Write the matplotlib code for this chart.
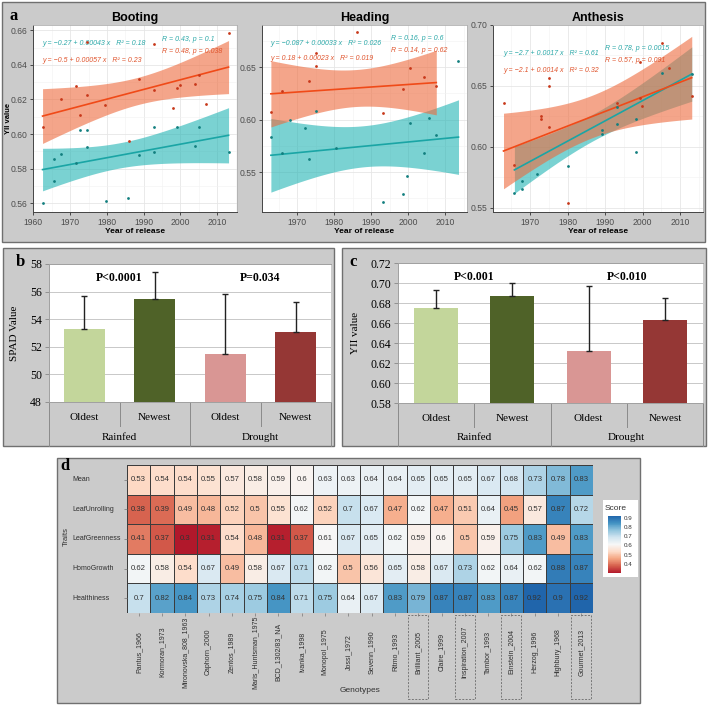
import numpy as np
import matplotlib
matplotlib.use('Agg')
import matplotlib.pyplot as plt
from matplotlib.patches import Rectangle
from matplotlib.colors import Normalize
import matplotlib.transforms as mtrans
from matplotlib.ticker import MultipleLocator, FormatStrFormatter
from matplotlib.cm import ScalarMappable

plt.rcParams['font.family'] = ['Liberation Sans', 'DejaVu Sans']

# ---------------- DATA ----------------
# Panel a : YII value vs year of release (cyan series / red series)
boot_cyan_year = [1962.5, 1965.5, 1965.5, 1967.5, 1971.6, 1972.7, 1974.7, 1974.7, 1979.8, 1985.8,
                  1988.8, 1992.8, 1992.8, 1999.1, 2003.9, 2005.1, 2013.1]
boot_cyan_val = [0.560, 0.5727, 0.5858, 0.5887, 0.5835, 0.6022, 0.6026, 0.5926, 0.5613, 0.5633,
                 0.5877, 0.5897, 0.6041, 0.6041, 0.5931, 0.6041, 0.5897]
boot_red_year = [1962.5, 1967.5, 1971.6, 1972.7, 1974.7, 1974.7, 1979.6, 1985.9, 1988.8, 1992.8,
                 1992.8, 1997.9, 1999.1, 2000.0, 2003.9, 2005.1, 2007.1, 2013.1]
boot_red_val = [0.6041, 0.620, 0.6276, 0.6109, 0.6224, 0.653, 0.6166, 0.596, 0.6318, 0.652,
                0.6253, 0.6153, 0.6269, 0.6282, 0.6288, 0.634, 0.6176, 0.6585]

head_cyan_year = [1962.9, 1965.9, 1968.1, 1972.0, 1973.1, 1975.1, 1980.4, 1993.3, 1998.5, 1999.6,
                  2000.5, 2004.4, 2005.6, 2007.6, 2013.6]
head_cyan_val = [0.5833, 0.5686, 0.600, 0.5915, 0.5623, 0.6078, 0.5733, 0.5214, 0.5292, 0.546,
                 0.5969, 0.5686, 0.6016, 0.5852, 0.6559]
head_red_year = [1962.9, 1965.9, 1973.1, 1975.1, 1975.1, 1986.2, 1993.3, 1998.5, 2000.5, 2004.4, 2007.6]
head_red_val = [0.6073, 0.6274, 0.6365, 0.6629, 0.6509, 0.6833, 0.6063, 0.629, 0.6488, 0.6409, 0.6324]

anth_cyan_year = [1965.8, 1967.8, 1967.8, 1971.8, 1980.0, 1989.1, 1989.1, 1993.2, 1993.2, 1998.2,
                  1998.2, 2005.1, 2013.1]
anth_cyan_val = [0.5626, 0.5653, 0.572, 0.5776, 0.5847, 0.614, 0.6104, 0.6325, 0.6189, 0.623,
                 0.5962, 0.661, 0.6598]
anth_red_year = [1962.9, 1965.8, 1972.9, 1972.9, 1974.9, 1974.9, 1974.9, 1980.0, 1993.2, 1999.3,
                 1999.3, 1999.9, 2005.1, 2007.1, 2013.1]
anth_red_val = [0.6358, 0.5852, 0.6254, 0.6227, 0.6563, 0.650, 0.6166, 0.554, 0.6358, 0.6404,
                0.670, 0.6336, 0.6855, 0.665, 0.642]

# fitted regression line values read at the first and last year of each series
boot_cyan_fit = [0.5795, 0.5993]
boot_red_fit = [0.6104, 0.6387]
head_cyan_fit = [0.5660, 0.5833]
head_red_fit = [0.6245, 0.6352]
anth_cyan_fit = [0.5812, 0.6598]
anth_red_fit = [0.5967, 0.6568]

stage_titles = ['Booting', 'Heading', 'Anthesis']
eq_cyan = ['y = −0.27 + 0.00043 x   R² = 0.18', 'y = −0.087 + 0.00033 x   R² = 0.026',
           'y = −2.7 + 0.0017 x   R² = 0.61']
eq_red = ['y = −0.5 + 0.00057 x   R² = 0.23', 'y = 0.18 + 0.00023 x   R² = 0.019',
          'y = −2.1 + 0.0014 x   R² = 0.32']
r_cyan = ['R = 0.43, p = 0.1', 'R = 0.16, p = 0.6', 'R = 0.78, p = 0.0015']
r_red = ['R = 0.48, p = 0.038', 'R = 0.14, p = 0.62', 'R = 0.57, p = 0.091']

# Panel b / c
bar_groups = ['Oldest', 'Newest', 'Oldest', 'Newest']
conditions = ['Rainfed', 'Drought']
spad_mean = [53.3, 55.45, 51.5, 53.1]
spad_err = [2.35, 1.95, 4.3, 2.15]
spad_p = ['P<0.0001', 'P=0.034']
yii_mean = [0.675, 0.687, 0.632, 0.663]
yii_err = [0.018, 0.013, 0.065, 0.022]
yii_p = ['P<0.001', 'P<0.010']
bar_colors = ['#C3D69B', '#4F6228', '#D99694', '#953735']

# Panel d : heatmap
traits = ['Mean', 'LeafUnrolling', 'LeafGreenness', 'HomoGrowth', 'Healthiness']
genotypes = ['Pantus_1966', 'Kormoran_1973', 'Mironovska_808_1963', 'Caphorn_2000', 'Zentos_1989',
             'Maris_Huntsman_1975', 'BCD_1302/83_NA', 'Ivanka_1998', 'Monopol_1975', 'Jossi_1972',
             'Sevenn_1990', 'Ritmo_1993', 'Brilliant_2005', 'Claire_1999', 'Inspiration_2007',
             'Tambor_1993', 'Einstein_2004', 'Herzog_1996', 'Highbury_1968', 'Gourmet_2013']
score_mean = [0.53, 0.54, 0.54, 0.55, 0.57, 0.58, 0.59, 0.6, 0.63, 0.63, 0.64, 0.64, 0.65, 0.65, 0.65,
              0.67, 0.68, 0.73, 0.78, 0.83]
score_unroll = [0.38, 0.39, 0.49, 0.48, 0.52, 0.5, 0.55, 0.62, 0.52, 0.7, 0.67, 0.47, 0.62, 0.47, 0.51,
                0.64, 0.45, 0.57, 0.87, 0.72]
score_green = [0.41, 0.37, 0.3, 0.31, 0.54, 0.48, 0.31, 0.37, 0.61, 0.67, 0.65, 0.62, 0.59, 0.6, 0.5,
               0.59, 0.75, 0.83, 0.49, 0.83]
score_homo = [0.62, 0.58, 0.54, 0.67, 0.49, 0.58, 0.67, 0.71, 0.62, 0.5, 0.56, 0.65, 0.58, 0.67, 0.73,
              0.62, 0.64, 0.62, 0.88, 0.87]
score_health = [0.7, 0.82, 0.84, 0.73, 0.74, 0.75, 0.84, 0.71, 0.75, 0.64, 0.67, 0.83, 0.79, 0.87, 0.87,
                0.83, 0.87, 0.92, 0.9, 0.92]
highlighted = ['Brilliant_2005', 'Inspiration_2007', 'Einstein_2004', 'Gourmet_2013']
legend_ticks = [0.4, 0.5, 0.6, 0.7, 0.8, 0.9]

# ---------------- FIGURE ----------------
W, H = 709, 707
fig = plt.figure(figsize=(W / 100, H / 100), dpi=100)
fig.patch.set_facecolor('white')


def px_axes(x0, y0, x1, y1):
    return fig.add_axes([x0 / W, 1 - y1 / H, (x1 - x0) / W, (y1 - y0) / H])


def gray_box(x0, y0, x1, y1, fc='#CBCBCB'):
    fig.patches.append(Rectangle((x0 / W, 1 - y1 / H), (x1 - x0) / W, (y1 - y0) / H,
                                 transform=fig.transFigure, facecolor=fc, edgecolor='#707070',
                                 lw=1.0, zorder=-10))


def fig_text(x, y, s, **kw):
    fig.text(x / W, 1 - y / H, s, **kw)


T975 = {8: 2.306, 9: 2.262, 10: 2.228, 11: 2.201, 12: 2.179, 13: 2.160, 14: 2.145, 15: 2.131,
        16: 2.120, 17: 2.110, 18: 2.101, 19: 2.093, 20: 2.086}


def smooth(ax, xs, ys, fit, line_c, fill_c, pt_c):
    x = np.asarray(xs, float)
    y = np.asarray(ys, float)
    n = len(x)
    b = (fit[1] - fit[0]) / (x.max() - x.min())
    a = fit[0] - b * x.min()
    res = y - (a + b * x)
    s = np.sqrt(np.sum(res ** 2) / (n - 2))
    xg = np.linspace(x.min(), x.max(), 100)
    yg = a + b * xg
    se = s * np.sqrt(1 / n + (xg - x.mean()) ** 2 / np.sum((x - x.mean()) ** 2))
    t = T975.get(n - 2, 2.1)
    ax.fill_between(xg, yg - t * se, yg + t * se, color=fill_c, alpha=0.6, lw=0, zorder=2)
    ax.plot(xg, yg, color=line_c, lw=1.2, zorder=3)
    ax.scatter(x, y, s=4, color=pt_c, zorder=4, lw=0)


# Panel a
gray_box(2, 2, 705, 242)
a_boxes = [(33, 25, 237, 212), (262, 25, 467, 212), (493, 25, 703, 212)]
a_xlims = [(1959.9, 2015.4), (1960.5, 2015.9), (1960.1, 2016.1)]
a_ylims = [(0.555, 0.663), (0.512, 0.69), (0.5467, 0.70)]
a_ymaj = [0.02, 0.05, 0.05]
a_data = [(boot_cyan_year, boot_cyan_val, boot_cyan_fit, boot_red_year, boot_red_val, boot_red_fit),
          (head_cyan_year, head_cyan_val, head_cyan_fit, head_red_year, head_red_val, head_red_fit),
          (anth_cyan_year, anth_cyan_val, anth_cyan_fit, anth_red_year, anth_red_val, anth_red_fit)]
eq_pos = [((0.044, 0.893), (0.044, 0.80), (0.63, 0.915), (0.63, 0.85)),
          ((0.042, 0.893), (0.042, 0.813), (0.627, 0.92), (0.627, 0.856)),
          ((0.048, 0.84), (0.048, 0.75), (0.533, 0.866), (0.533, 0.80))]
CY_LINE, CY_FILL, CY_PT, CY_TXT = '#1AA5A5', '#22B4B4', '#127F7F', '#2AA8A8'
RD_LINE, RD_FILL, RD_PT, RD_TXT = '#F04A18', '#EE6A3C', '#C8381A', '#E0552E'

for i in range(3):
    ax = px_axes(*a_boxes[i])
    ax.set_facecolor('white')
    cy_x, cy_y, cy_f, rd_x, rd_y, rd_f = a_data[i]
    smooth(ax, cy_x, cy_y, cy_f, CY_LINE, CY_FILL, CY_PT)
    smooth(ax, rd_x, rd_y, rd_f, RD_LINE, RD_FILL, RD_PT)
    ax.set_xlim(*a_xlims[i])
    ax.set_ylim(*a_ylims[i])
    ax.xaxis.set_major_locator(MultipleLocator(10))
    ax.xaxis.set_minor_locator(MultipleLocator(5))
    ax.yaxis.set_major_locator(MultipleLocator(a_ymaj[i]))
    ax.yaxis.set_minor_locator(MultipleLocator(a_ymaj[i] / 2))
    ax.yaxis.set_major_formatter(FormatStrFormatter('%.2f'))
    ax.grid(True, which='major', color='#E6E6E6', lw=0.6, zorder=0)
    ax.grid(True, which='minor', color='#F2F2F2', lw=0.4, zorder=0)
    ax.set_axisbelow(True)
    ax.tick_params(which='major', length=2.5, width=0.6, color='#333333', labelsize=6.2,
                   labelcolor='#4D4D4D', pad=1.5)
    ax.tick_params(which='minor', length=0)
    for sp in ['left', 'bottom']:
        ax.spines[sp].set_color('#444444')
        ax.spines[sp].set_linewidth(0.7)
    for sp in ['top', 'right']:
        ax.spines[sp].set_color('#B0B0B0')
        ax.spines[sp].set_linewidth(0.6)
    ax.set_title(stage_titles[i], fontsize=9, fontweight='bold', pad=3)
    ax.set_xlabel('Year of release', fontsize=6, fontweight='bold', labelpad=1)
    p = eq_pos[i]
    ax.text(*p[0], eq_cyan[i], transform=ax.transAxes, fontsize=5, color=CY_TXT, style='italic')
    ax.text(*p[1], eq_red[i], transform=ax.transAxes, fontsize=5, color=RD_TXT, style='italic')
    ax.text(*p[2], r_cyan[i], transform=ax.transAxes, fontsize=5, color=CY_TXT, style='italic')
    ax.text(*p[3], r_red[i], transform=ax.transAxes, fontsize=5, color=RD_TXT, style='italic')

fig_text(8, 118, 'YII value', rotation=90, fontsize=5.5, fontweight='bold', ha='center', va='center')
fig_text(9, 16, 'a', fontsize=12, fontweight='bold', family='Liberation Serif', va='center')

# Panels b and c
SERIF = 'Liberation Serif'


def bar_panel(box, ax_box, means, errs, ylim, ystep, fmt, pvals, ylabel, ylabel_x, letter, letter_pos):
    gray_box(*box)
    ax = px_axes(*ax_box)
    ax.set_facecolor('white')
    xs = np.arange(len(means))
    ax.bar(xs, means, width=0.58, color=bar_colors, zorder=2)
    ax.errorbar(xs, means, yerr=[np.zeros(len(errs)), errs], fmt='none', ecolor='#222222',
                elinewidth=1.0, capsize=2.2, capthick=1.0, zorder=3)
    ax.set_xlim(-0.5, len(means) - 0.5)
    ax.set_ylim(*ylim)
    ax.yaxis.set_major_locator(MultipleLocator(ystep))
    ax.yaxis.set_major_formatter(FormatStrFormatter(fmt))
    ax.yaxis.grid(True, color='#C8C8C8', lw=0.7, zorder=0)
    ax.set_axisbelow(True)
    ax.set_xticks([])
    ax.tick_params(axis='y', length=3, width=0.6, color='#888888', labelsize=8.5, pad=2)
    for lab in ax.get_yticklabels():
        lab.set_family(SERIF)
    for sp in ax.spines.values():
        sp.set_color('#A0A0A0')
        sp.set_linewidth(0.7)
    ax.spines['right'].set_visible(False)
    tr = mtrans.blended_transform_factory(ax.transData, ax.transAxes)
    axh = ax_box[3] - ax_box[1]
    bottom_y = -(box[3] - ax_box[3]) / axh
    row1_y = -(box[3] - ax_box[3]) * 0.36 / axh
    row2_y = -(box[3] - ax_box[3]) * 0.80 / axh
    inner_y = -(box[3] - ax_box[3]) * 0.55 / axh
    for j, g in enumerate(bar_groups):
        ax.text(j, row1_y, g, transform=tr, ha='center', va='center', fontsize=8, family=SERIF)
    for k, c in enumerate(conditions):
        ax.text(2 * k + 0.5, row2_y, c, transform=tr, ha='center', va='center', fontsize=8, family=SERIF)
        ax.text(2 * k + 0.5, 0.9, pvals[k], transform=tr, ha='center', va='center', fontsize=8.5,
                family=SERIF, fontweight='bold')
    for xv in [-0.5, 1.5, 3.5]:
        ax.plot([xv, xv], [0, bottom_y], transform=tr, color='#8A8A8A', lw=0.7, clip_on=False)
    for xv in [0.5, 2.5]:
        ax.plot([xv, xv], [0, inner_y], transform=tr, color='#8A8A8A', lw=0.7, clip_on=False)
    fig_text(ylabel_x, (ax_box[1] + ax_box[3]) / 2, ylabel, rotation=90, fontsize=8, family=SERIF,
             ha='center', va='center')
    fig_text(*letter_pos, letter, fontsize=12, fontweight='bold', family=SERIF, ha='center', va='center')
    return ax


bar_panel((3, 248, 334, 446), (49, 264, 331, 402), spad_mean, spad_err, (48, 58), 2, '%d', spad_p,
          'SPAD Value', 15, 'b', (20, 262))
bar_panel((342, 248, 706, 446), (398, 263, 703, 403), yii_mean, yii_err, (0.58, 0.72), 0.02, '%.2f',
          yii_p, 'YII value', 355, 'c', (353, 262))

# Panel d : heatmap
gray_box(57, 458, 640, 703)
M = np.array([score_mean, score_unroll, score_green, score_homo, score_health])
norm = Normalize(vmin=0.2225, vmax=0.9975)
cmap = plt.get_cmap('RdBu')
hx0, hy0, hx1, hy1 = 127, 465, 593, 613
axh = px_axes(hx0, hy0, hx1, hy1)
axh.pcolormesh(np.arange(len(genotypes) + 1), np.arange(len(traits) + 1), M, cmap=cmap, norm=norm,
               edgecolors='#3C3C3C', linewidth=0.6)
axh.set_xlim(0, len(genotypes))
axh.set_ylim(len(traits), 0)
for r in range(len(traits)):
    for c in range(len(genotypes)):
        axh.text(c + 0.5, r + 0.5, f'{M[r, c]:g}', ha='center', va='center', fontsize=5.6, color='#333333')
axh.set_xticks(np.arange(len(genotypes)) + 0.5)
axh.set_xticklabels([])
axh.set_yticks(np.arange(len(traits)) + 0.5)
axh.set_yticklabels([])
axh.tick_params(length=2, width=0.5, color='#777777')
for sp in axh.spines.values():
    sp.set_visible(False)
trx = mtrans.blended_transform_factory(axh.transData, axh.transAxes)
tr_y = mtrans.blended_transform_factory(axh.transAxes, axh.transData)
hh = hy1 - hy0
hw = hx1 - hx0
for c, g in enumerate(genotypes):
    axh.text(c + 0.5, -(652 - hy1) / hh, g, transform=trx, rotation=90, ha='center', va='center',
             fontsize=5, color='#2E2E2E')
    if g in highlighted:
        axh.add_patch(Rectangle((c + 0.07, -(699 - hy1) / hh), 0.86, (699 - 615) / hh, transform=trx,
                                fill=False, ls=(0, (2, 1.5)), edgecolor='#777777', lw=0.7, clip_on=False))
for r, t in enumerate(traits):
    axh.text((72 - hx0) / hw, r + 0.5, t, transform=tr_y, ha='left', va='center', fontsize=5,
             color='#2E2E2E')
fig_text(66, 537, 'Traits', rotation=90, fontsize=5.5, color='#333333', ha='center', va='center')
fig_text(360, 691, 'Genotypes', fontsize=6, color='#333333', ha='center', va='center')
fig_text(65, 466, 'd', fontsize=12, fontweight='bold', family=SERIF, ha='center', va='center')

# legend
fig.patches.append(Rectangle((603 / W, 1 - 577 / H), 35 / W, 77 / H, transform=fig.transFigure,
                             facecolor='white', edgecolor='none', zorder=-5))
fig_text(605, 508, 'Score', fontsize=6, color='#333333', ha='left', va='center')
cax = px_axes(608, 516, 621, 573)
sm = ScalarMappable(norm=norm, cmap=cmap)
cb = fig.colorbar(sm, cax=cax, boundaries=np.linspace(M.min(), M.max(), 200), ticks=legend_ticks)
cb.outline.set_visible(False)
cax.tick_params(length=0, labelsize=4.5, labelcolor='#333333', pad=2)
cax.yaxis.set_major_formatter(FormatStrFormatter('%.1f'))

fig.savefig('out.png', dpi=100, facecolor='white')
